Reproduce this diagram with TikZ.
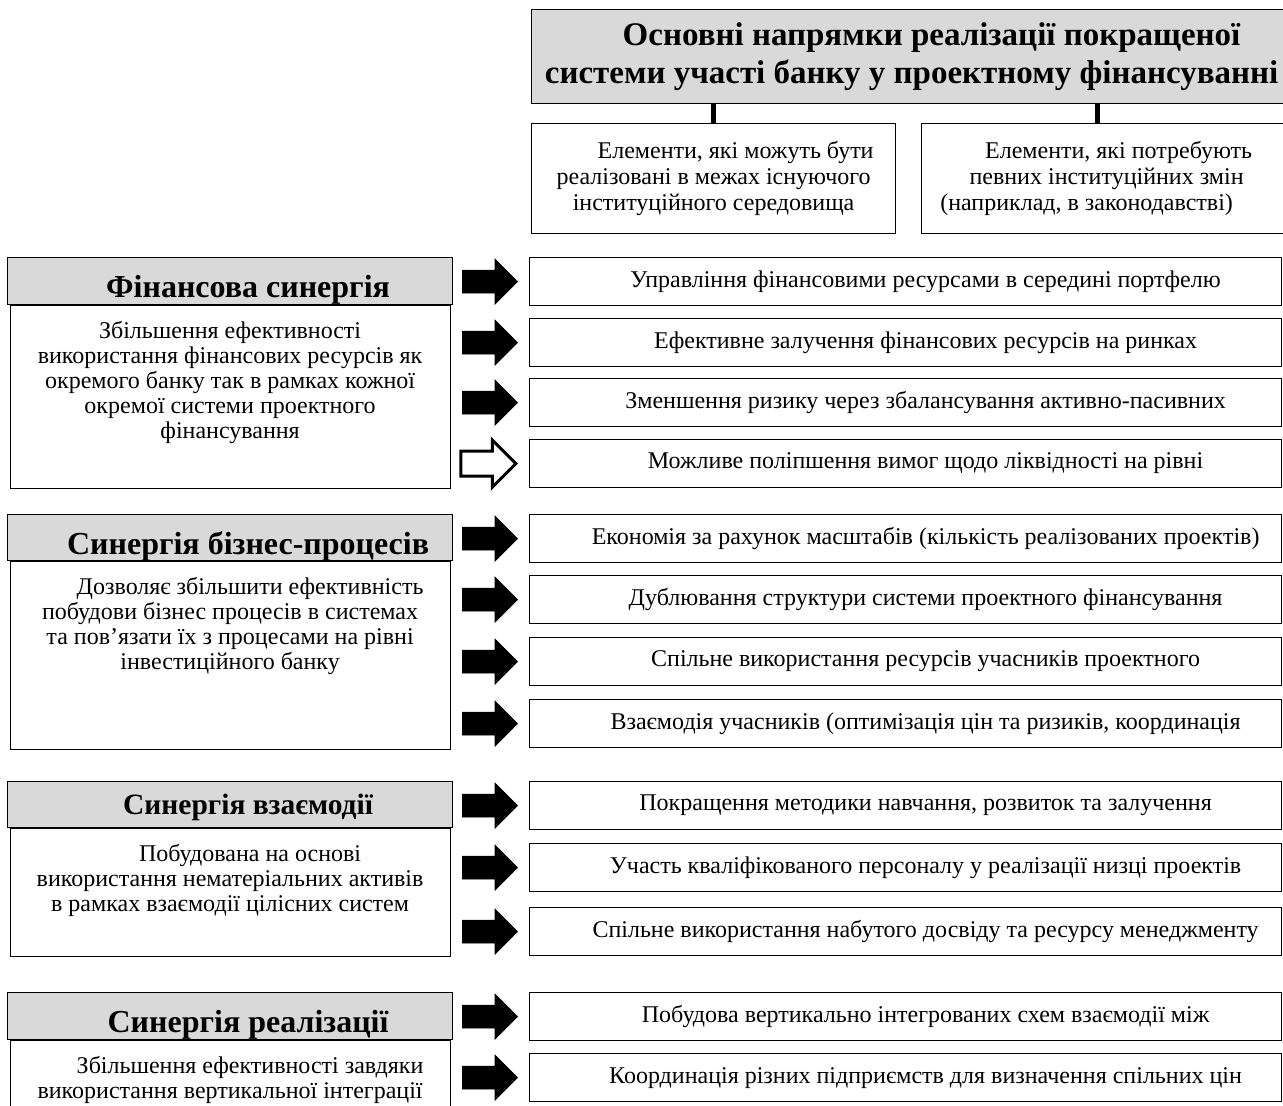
\documentclass[tikz,border=0pt]{standalone}
\usepackage{fontspec}
\setmainfont{Liberation Serif}
\usetikzlibrary{shapes.arrows}

\newcommand{\firstind}[1][40pt]{\hspace*{#1}}
\newcommand{\bodytxt}[2]{\parbox[c][#1][t]{440pt}{\centering\vspace*{16pt}#2}}

\begin{document}
\begin{tikzpicture}[
  x=1pt, y=-1pt,
  line width=1.2pt,
  mainbox/.style={draw, fill=black!15, anchor=north west, minimum width=760pt, minimum height=94pt, align=center, font=\bfseries\fontsize{33}{38}\selectfont},
  subbox/.style={draw, anchor=north west, minimum width=364pt, minimum height=110pt, align=center, font=\fontsize{24}{26}\selectfont},
  synhead/.style={draw, fill=black!15, anchor=north west, minimum width=445pt, inner sep=0pt, text height=33pt, text depth=0pt, font=\bfseries\fontsize{32}{34}\selectfont},
  synbody/.style={draw, fill=white, anchor=north, inner sep=0pt, font=\fontsize{24}{25}\selectfont},
  entry/.style={draw, anchor=north west, minimum width=752pt, minimum height=48pt, inner sep=0pt, font=\fontsize{24}{28}\selectfont},
  blk/.style={single arrow, draw, fill=black, anchor=tip, minimum height=55pt, single arrow head extend=11pt, inner xsep=0pt, inner ysep=11pt, line width=0.8pt},
  hollow/.style={blk, fill=white, line width=3pt},
  stem/.style={line width=5pt}
]
\useasboundingbox (0,0) rectangle (1283,1106);

% top part
\node [mainbox] (main) at (531,9) {\firstind[40pt]Основні напрямки реалізації покращеної\\системи участі банку у проектному фінансуванні};
\node [subbox] (sub1) at (531,123) {\firstind[44pt]Елементи, які можуть бути\\реалізовані в межах існуючого\\інституційного середовища};
\node [subbox, minimum width=370pt] (sub2) at (921,123) {\firstind[44pt]Елементи, які потребують\hspace*{20pt}\\певних інституційних змін\hspace*{40pt}\\(наприклад, в законодавстві)\hspace*{40pt}};
\draw [stem] (sub1.north |- main.south) -- (sub1.north);
\draw [stem] ([xshift=-9pt]sub2.north |- main.south) -- ([xshift=-9pt]sub2.north);

% financial synergy
\node [synhead, minimum height=47pt] (fin) at (7,257) {\firstind[36pt]Фінансова синергія};
\node [synbody] (finb) at (fin.south) {\bodytxt{183pt}{Збільшення ефективності\\використання фінансових ресурсів як\\окремого банку так в рамках кожної\\окремої системи проектного\\фінансування}};
\node [entry] (f1) at (529,257) {\firstind Управління фінансовими ресурсами в середині портфелю};
\node [entry] (f2) at (529,318) {\firstind Ефективне залучення фінансових ресурсів на ринках};
\node [entry] (f3) at (529,378) {\firstind Зменшення ризику через збалансування активно-пасивних};
\node [entry] (f4) at (529,439) {\firstind Можливе поліпшення вимог щодо ліквідності на рівні};
\node [blk] (af1) at ([xshift=-11pt]f1.west) {};
\node [blk] (af2) at ([xshift=-11pt]f2.west) {};
\node [blk] (af3) at ([xshift=-11pt]f3.west) {};
\node [hollow] (af4) at ([xshift=-11pt]f4.west) {};

% business processes
\node [synhead, minimum height=46pt] (bus) at (7,514) {\firstind[36pt]Синергія бізнес-процесів};
\node [synbody] (busb) at (bus.south) {\bodytxt{188pt}{\firstind Дозволяє збільшити ефективність\\побудови бізнес процесів в системах\\та пов’язати їх з процесами на рівні\\інвестиційного банку}};
\node [entry] (b1) at (529,514) {\firstind Економія за рахунок масштабів (кількість реалізованих проектів)};
\node [entry] (b2) at (529,575) {\firstind Дублювання структури системи проектного фінансування};
\node [entry] (b3) at (529,637) {\firstind Спільне використання ресурсів учасників проектного};
\node [entry] (b4) at (529,699) {\firstind Взаємодія учасників (оптимізація цін та ризиків, координація};
\node [blk] (ab1) at ([xshift=-11pt]b1.west) {};
\node [blk] (ab2) at ([xshift=-11pt]b2.west) {};
\node [blk] (ab3) at ([xshift=-11pt]b3.west) {};
\node [blk] (ab4) at ([xshift=-11pt]b4.west) {};

% interaction
\node [synhead, minimum height=46pt, text height=20pt, font=\bfseries\fontsize{29.5}{31}\selectfont] (int) at (7,781) {\firstind[36pt]Синергія взаємодії};
\node [synbody] (intb) at (int.south) {\bodytxt{128pt}{\firstind Побудована на основі\\використання нематеріальних активів\\в рамках взаємодії цілісних систем}};
\node [entry] (i1) at (529,781) {\firstind Покращення методики навчання, розвиток та залучення};
\node [entry] (i2) at (529,843) {\firstind Участь кваліфікованого персоналу у реалізації низці проектів};
\node [entry] (i3) at (529,907) {\firstind Спільне використання набутого досвіду та ресурсу менеджменту};
\node [blk] (ai1) at ([xshift=-11pt]i1.west) {};
\node [blk] (ai2) at ([xshift=-11pt]i2.west) {};
\node [blk] (ai3) at ([xshift=-11pt]i3.west) {};

% realization
\node [synhead, minimum height=47pt] (rea) at (7,992) {\firstind[36pt]Синергія реалізації};
\node [synbody] (reab) at (rea.south) {\bodytxt{90pt}{\firstind Збільшення ефективності завдяки\\використання вертикальної інтеграції}};
\node [entry] (r1) at (529,992) {\firstind Побудова вертикально інтегрованих схем взаємодії між};
\node [entry] (r2) at (529,1053) {\firstind Координація різних підприємств для визначення спільних цін};
\node [blk] (ar1) at ([xshift=-11pt]r1.west) {};
\node [blk] (ar2) at ([xshift=-11pt]r2.west) {};
\end{tikzpicture}
\end{document}
